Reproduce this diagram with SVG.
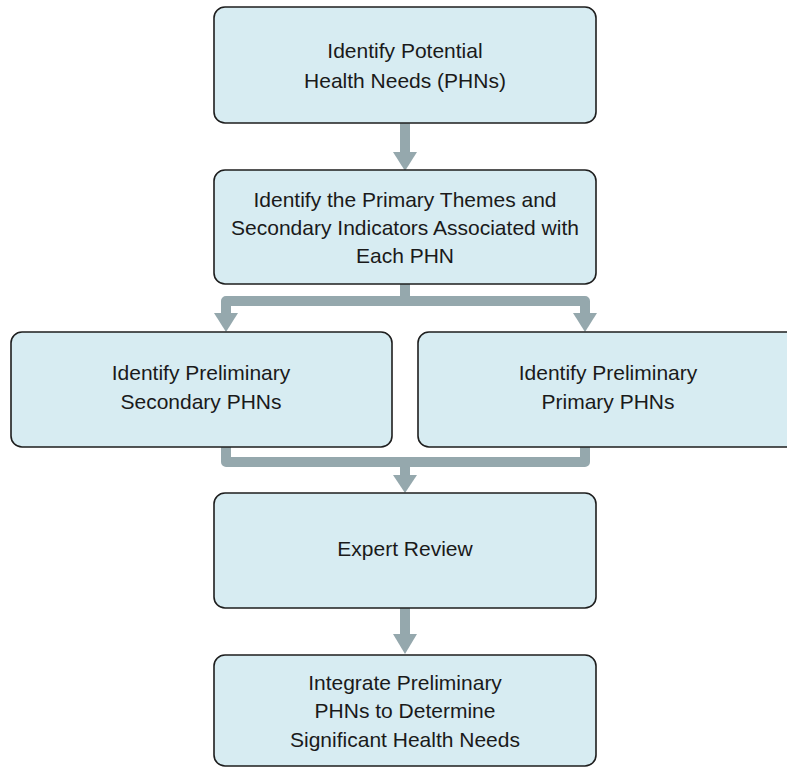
<svg xmlns="http://www.w3.org/2000/svg" width="787" height="768" viewBox="0 0 787 768">
<style>
.box{fill:#D7ECF2;stroke:#1E1E1E;stroke-width:1.6}
.t{font-family:"Liberation Sans",Arial,sans-serif;font-size:21px;fill:#1A1A1A;text-anchor:middle}
.c{fill:none;stroke:#95A8AD;stroke-width:10;stroke-linejoin:round}
.h{fill:#95A8AD}
</style>
<rect width="787" height="768" fill="#FFFFFF"/>
<g id="connectors">
<path class="c" d="M405,123 V154"/>
<polygon class="h" points="393,152 417,152 405,171"/>
<path class="c" d="M405,284 V301"/>
<path class="c" d="M226,315 V301 H585 V315"/>
<polygon class="h" points="214,313 238,313 226,332"/>
<polygon class="h" points="573,313 597,313 585,332"/>
<path class="c" d="M226,447 V462 H585 V447"/>
<path class="c" d="M405,462 V477"/>
<polygon class="h" points="393,475 417,475 405,493"/>
<path class="c" d="M405,608 V636"/>
<polygon class="h" points="393,634 417,634 405,654"/>
</g>
<g id="n1">
<rect class="box" x="214" y="7" width="382" height="116" rx="11"/>
<text class="t" x="405" y="58">Identify Potential</text>
<text class="t" x="405" y="88">Health Needs (PHNs)</text>
</g>
<g id="n2">
<rect class="box" x="214" y="170" width="382" height="114" rx="11"/>
<text class="t" x="405" y="207">Identify the Primary Themes and</text>
<text class="t" x="405" y="235">Secondary Indicators Associated with</text>
<text class="t" x="405" y="263">Each PHN</text>
</g>
<g id="n3">
<rect class="box" x="11" y="332" width="381" height="115" rx="11"/>
<text class="t" x="201" y="380">Identify Preliminary</text>
<text class="t" x="201" y="409">Secondary PHNs</text>
</g>
<g id="n4">
<rect class="box" x="418" y="332" width="381" height="115" rx="11"/>
<text class="t" x="608" y="380">Identify Preliminary</text>
<text class="t" x="608" y="409">Primary PHNs</text>
</g>
<g id="n5">
<rect class="box" x="214" y="493" width="382" height="115" rx="11"/>
<text class="t" x="405" y="556">Expert Review</text>
</g>
<g id="n6">
<rect class="box" x="214" y="655" width="382" height="111" rx="11"/>
<text class="t" x="405" y="690">Integrate Preliminary</text>
<text class="t" x="405" y="718">PHNs to Determine</text>
<text class="t" x="405" y="747">Significant Health Needs</text>
</g>
</svg>
